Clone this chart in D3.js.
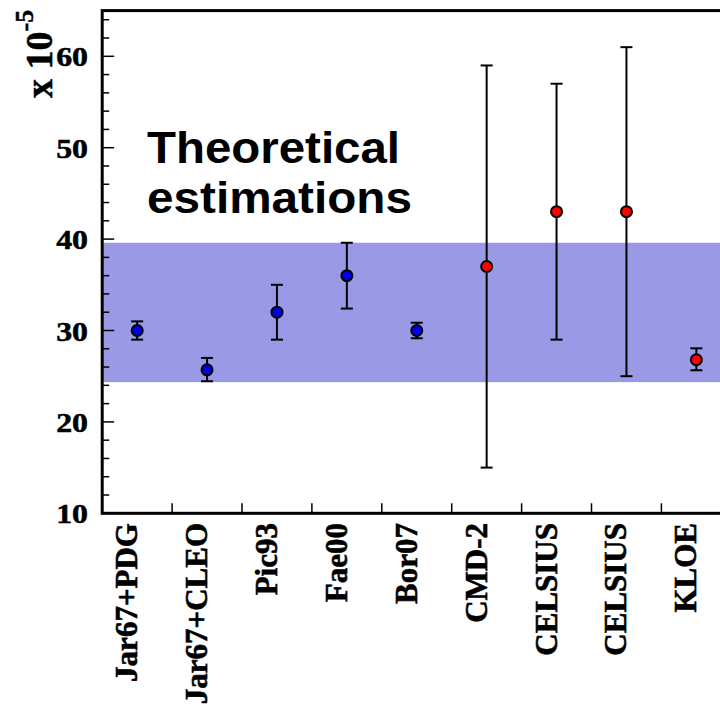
<!DOCTYPE html>
<html>
<head>
<meta charset="utf-8">
<script src="https://cdn.jsdelivr.net/npm/d3@7"></script>
<style>
  body { margin: 0; background: #fff; }
  svg { display: block; }
</style>
</head>
<body>
<div id="chart"></div>
<script>
// measurements, in units of 10^-5
const labels = ["Jar67+PDG", "Jar67+CLEO", "Pic93", "Fae00", "Bor07", "CMD-2", "CELSIUS", "CELSIUS", "KLOE"];
const values = [30.0, 25.7, 32.0, 36.0, 30.0, 37.0, 43.0, 43.0, 26.8];
const errLow = [29.0, 24.45, 29.0, 32.4, 29.15, 15.0, 29.0, 25.0, 25.65];
const errHigh = [31.0, 27.0, 35.0, 39.6, 30.85, 59.0, 57.0, 61.0, 28.05];
const kinds = ["theory", "theory", "theory", "theory", "theory", "exp", "exp", "exp", "exp"];
const bandRange = [24.35, 39.6];
const yTicks = [10, 20, 30, 40, 50, 60];

const W = 720, H = 706;
const serif = "'Liberation Serif', 'Times New Roman', serif";
const svg = d3.select("#chart").append("svg")
    .attr("width", W)
    .attr("height", H);

const x = d3.scaleBand().domain(d3.range(labels.length)).range([102.2, 731.3]).padding(0);
const y = d3.scaleLinear().domain([10, 65]).range([513.3, 10.6]);

const left = x.range()[0], right = x.range()[1];

// theoretical band
svg.append("rect")
    .attr("x", left)
    .attr("y", y(bandRange[1]))
    .attr("width", right - left)
    .attr("height", y(bandRange[0]) - y(bandRange[1]))
    .attr("fill", "#9999e5");

// y ticks (inside the frame)
const minor = d3.range(10, 65, 2).filter(v => v % 10 !== 0);
svg.append("g").selectAll("line").data(minor).join("line")
    .attr("x1", left).attr("x2", left + 7)
    .attr("y1", d => y(d)).attr("y2", d => y(d))
    .attr("stroke", "#000").attr("stroke-width", 1.5);
svg.append("g").selectAll("line").data(yTicks).join("line")
    .attr("x1", left).attr("x2", left + 12)
    .attr("y1", d => y(d)).attr("y2", d => y(d))
    .attr("stroke", "#000").attr("stroke-width", 1.5);

svg.append("g").selectAll("text").data(yTicks).join("text")
    .attr("transform", d => "translate(88," + y(d) + ") scale(1.18,1)")
    .attr("dy", "0.37em")
    .attr("text-anchor", "end")
    .attr("stroke", "#000").attr("stroke-width", 0.5)
    .style("font-family", serif)
    .style("font-weight", "bold")
    .style("font-size", "27px")
    .text(d => d);

// x ticks at category boundaries
const bounds = d3.range(1, labels.length).map(i => x(i));
svg.append("g").selectAll("line").data(bounds).join("line")
    .attr("x1", d => d).attr("x2", d => d)
    .attr("y1", y(10)).attr("y2", y(10) - 10)
    .attr("stroke", "#000").attr("stroke-width", 1.5);

// category labels
svg.append("g").selectAll("text").data(labels).join("text")
    .attr("transform", (d, i) => "translate(" + (x(i) + x.bandwidth() / 2) + "," + 523 + ") rotate(-90)")
    .attr("text-anchor", "end")
    .attr("stroke", "#000").attr("stroke-width", 0.6)
    .style("font-family", serif)
    .style("font-weight", "bold")
    .style("font-size", "31px")
    .text(d => d);

// frame
svg.append("rect")
    .attr("x", left)
    .attr("y", y(65))
    .attr("width", right - left)
    .attr("height", y(10) - y(65))
    .attr("fill", "none")
    .attr("stroke", "#000")
    .attr("stroke-width", 3);

// error bars
const pts = labels.map((l, i) => ({ i: i, v: values[i], lo: errLow[i], hi: errHigh[i], kind: kinds[i] }));
const cx = d => x(d.i) + x.bandwidth() / 2;
const eb = svg.append("g").attr("stroke", "#000").attr("stroke-width", 2);
eb.selectAll("line.v").data(pts).join("line")
    .attr("class", "v")
    .attr("x1", cx).attr("x2", cx)
    .attr("y1", d => y(d.lo)).attr("y2", d => y(d.hi));
eb.selectAll("line.top").data(pts).join("line")
    .attr("class", "top")
    .attr("x1", d => cx(d) - 6).attr("x2", d => cx(d) + 6)
    .attr("y1", d => y(d.hi)).attr("y2", d => y(d.hi));
eb.selectAll("line.bot").data(pts).join("line")
    .attr("class", "bot")
    .attr("x1", d => cx(d) - 6).attr("x2", d => cx(d) + 6)
    .attr("y1", d => y(d.lo)).attr("y2", d => y(d.lo));

// markers
svg.append("g").selectAll("circle").data(pts).join("circle")
    .attr("cx", cx)
    .attr("cy", d => y(d.v))
    .attr("r", 5.5)
    .attr("fill", d => d.kind === "theory" ? "#0000e6" : "#ff0000")
    .attr("stroke", "#000")
    .attr("stroke-width", 2);

// axis unit label
const unit = svg.append("text")
    .attr("transform", "translate(52,98) rotate(-90)")
    .attr("stroke", "#000").attr("stroke-width", 0.5)
    .style("font-family", serif)
    .style("font-weight", "bold")
    .style("font-size", "38px");
unit.append("tspan").text("x 10");
unit.append("tspan").attr("dy", -19).style("font-size", "26px").text("-5");

// annotation
const note = svg.append("text")
    .style("font-family", "'Liberation Sans', Arial, sans-serif")
    .style("font-weight", "bold")
    .style("font-size", "44px");
note.append("tspan").attr("x", 147).attr("y", 163)
    .attr("textLength", 253).attr("lengthAdjust", "spacingAndGlyphs").text("Theoretical");
note.append("tspan").attr("x", 147).attr("y", 213)
    .attr("textLength", 265).attr("lengthAdjust", "spacingAndGlyphs").text("estimations");
</script>
</body>
</html>
